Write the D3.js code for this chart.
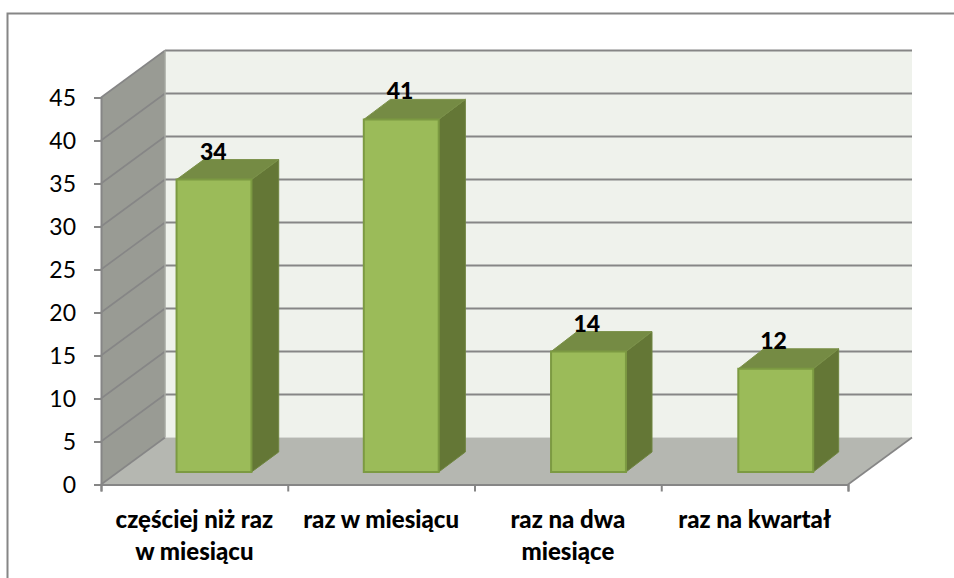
<!DOCTYPE html>
<html><head><meta charset="utf-8">
<style>html,body{margin:0;padding:0;background:#fff}svg{display:block}text{font-family:Lato,"Noto Sans",sans-serif;fill:#000}</style>
<script src="https://cdn.jsdelivr.net/npm/d3@7"></script></head>
<body><svg id="c" width="954" height="578"></svg>
<script>
const categories = [["częściej niż raz","w miesiącu"],["raz w miesiącu"],["raz na dwa","miesiące"],["raz na kwartał"]];
const values = [34,41,14,12];
const valueLabels = ["34","41","14","12"];
const yTicks = [0,5,10,15,20,25,30,35,40,45];

const svg = d3.select("#c");
const x = d3.scaleBand().domain(d3.range(4)).range([102,851]).paddingInner(0.6).paddingOuter(0.3);
const xEdge = d3.scaleLinear().domain([0,4]).range([101,848]);
const y = d3.scaleLinear().domain([0,45]).range([484.5,97.5]);
const dep = {x:64, y:-47};            // full floor depth
const barFront = 0.287, barBack = 0.713;
const px = (v,d)=>v+dep.x*d, py=(v,d)=>v+dep.y*d;
const poly = (pts,fill,stroke,sw)=>svg.append("polygon").attr("points",pts.map(p=>p.join(",")).join(" ")).attr("fill",fill).attr("stroke",stroke||"none").attr("stroke-width",sw||0);

// frame
svg.append("path").attr("d","M7.5,578V13.5H954").attr("fill","none").attr("stroke","#868686").attr("stroke-width",2);

const L=101,R=848,B=y(0),T=y(45);
// back wall, side wall, floor
poly([[px(L,1),py(T,1)],[px(R,1),py(T,1)],[px(R,1),py(B,1)],[px(L,1),py(B,1)]],"#eff2ec");
poly([[L,T],[px(L,1),py(T,1)],[px(L,1),py(B,1)],[L,B]],"#999b94");
poly([[L,B],[R,B],[px(R,1),py(B,1)],[px(L,1),py(B,1)]],"#b5b7b1");

// gridlines
const gridC="#868686";
yTicks.forEach(t=>{
  const Y=y(t);
  if(t>0) svg.append("line").attr("x1",px(L,1)).attr("x2",px(R,1)).attr("y1",py(Y,1)).attr("y2",py(Y,1)).attr("stroke",gridC).attr("stroke-width",2);
  svg.append("line").attr("x1",L).attr("x2",px(L,1)).attr("y1",Y).attr("y2",py(Y,1)).attr("stroke",gridC).attr("stroke-width",1.6);
});
svg.append("line").attr("x1",px(L,1)).attr("x2",px(L,1)).attr("y1",py(T,1)).attr("y2",py(B,1)).attr("stroke","#a6a8a2").attr("stroke-width",1.5);
svg.append("line").attr("x1",px(R,1)).attr("x2",R).attr("y1",py(B,1)).attr("y2",B).attr("stroke",gridC).attr("stroke-width",1.6);

// axes
const yAxis = d3.axisLeft(y).tickValues(yTicks).tickSize(7).tickPadding(18).tickFormat(d3.format("d"));
const ga = svg.append("g").attr("transform",`translate(${L},0)`).call(yAxis);
ga.selectAll("path,line").attr("stroke",gridC).attr("stroke-width",2);
ga.selectAll("text").attr("font-size",23).attr("dy","0.36em").style("font-family",'Lato,"Noto Sans",sans-serif');

const xAxis = d3.axisBottom(xEdge).tickValues([0,1,2,3,4]).tickSize(7).tickFormat("");
const gx = svg.append("g").attr("transform",`translate(0,${B})`).call(xAxis);
gx.selectAll("path,line").attr("stroke",gridC).attr("stroke-width",2);

// bars
values.forEach((v,i)=>{
  const x0=x(i)+dep.x*barFront, w=x.bandwidth(), x1=x0+w;
  const yb=B+dep.y*barFront+1, yt=yb-(B-y(v));
  const ddx=dep.x*(barBack-barFront)-i*0.6, ddy=dep.y*(barBack-barFront);
  poly([[x1,yt],[x1+ddx,yt+ddy],[x1+ddx,yb+ddy],[x1,yb]],"#647736","#6f8540",1);
  poly([[x0,yt],[x0+ddx,yt+ddy],[x1+ddx,yt+ddy],[x1,yt]],"#758b44","#7b9149",1);
  poly([[x0,yt],[x1,yt],[x1,yb],[x0,yb]],"#9bbb59","#7c9a42",2);
  svg.append("text").text(valueLabels[i]).attr("x",xEdge(i+0.5)+19).attr("y",yt+ddy).attr("text-anchor","middle").attr("font-size",23).attr("font-weight",900);
});

// category labels
categories.forEach((c,i)=>{
  c.forEach((s,j)=>{
    svg.append("text").text(s).attr("x",xEdge(i+0.5)).attr("y",528+j*32).attr("text-anchor","middle").attr("font-size",24).attr("font-weight",900);
  });
});
</script></body></html>
